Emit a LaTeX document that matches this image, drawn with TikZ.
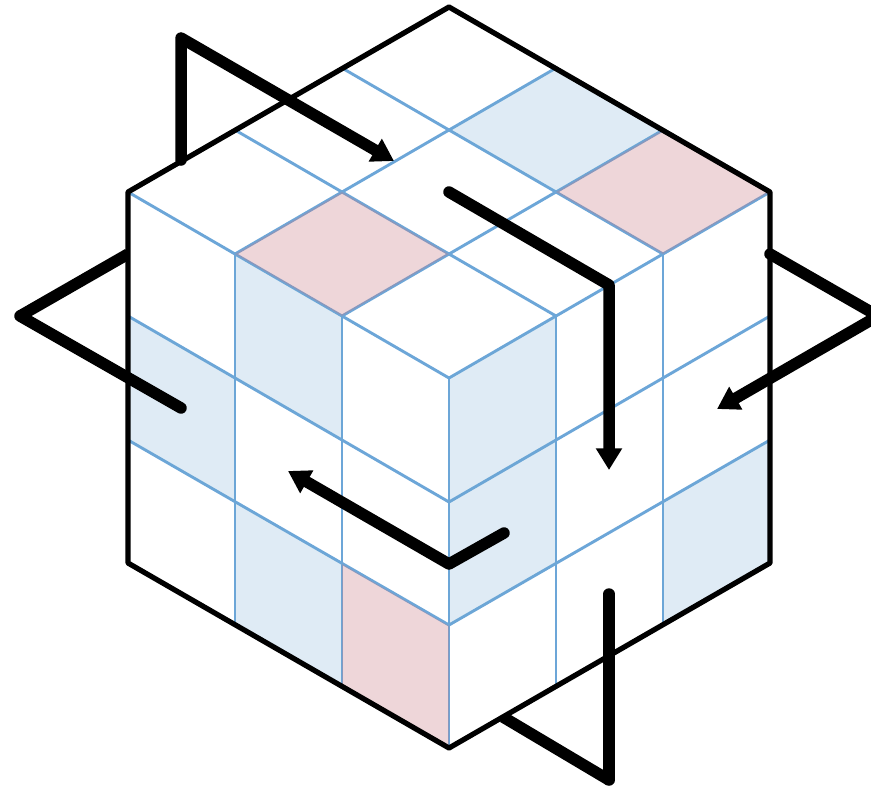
\documentclass[tikz,border=0pt]{standalone}
\usepackage{xcolor}
\usepackage{tikz}
\usetikzlibrary{arrows.meta}
\definecolor{gridblue}{RGB}{108,166,216}
\definecolor{cellblue}{RGB}{111,168,210}
\definecolor{cellpink}{RGB}{200,120,130}

\begin{document}
\begin{tikzpicture}[
    x=0.02cm, y=-0.02cm,
    gridline/.style={draw=gridblue, line width=0.058cm},
    outline/.style={draw=black, line width=0.105cm, line join=round, line cap=round},
    turn/.style={draw=black, line width=0.23cm, line join=round, line cap=round},
    back/.style={draw=black, line width=0.23cm},
    turnarrow/.style={turn, -{Triangle[length=0.434cm, width=0.5cm]}},
    bluecell/.style={fill=cellblue, fill opacity=0.22},
    pinkcell/.style={fill=cellpink, fill opacity=0.3}
]
\useasboundingbox (0,0) rectangle (871,798);

% cube corners
\coordinate (cubetop) at (449,7);
\coordinate (cubeleft) at (128,192);
\coordinate (cuberight) at (770,192);
\coordinate (leftlow) at (128,563);
\coordinate (rightlow) at (770,563);
\coordinate (cubebottom) at (449,748);

% parts of the turns that pass behind the cube
\coordinate (leftstart) at (128,254);
\coordinate (leftapex) at (20,316);
\coordinate (leftend) at (181,408);
\coordinate (lowstart) at (503,717);
\coordinate (lowapex) at (609,780);
\coordinate (lowend) at (609,594);
\draw[back] (leftstart) -- (leftapex);
\draw[back] (lowstart) -- (lowapex);

\fill[white] (cubetop) -- (cuberight) -- (rightlow) -- (cubebottom) -- (leftlow) -- (cubeleft) -- cycle;

% grid on the three faces
\foreach \xa/\ya/\xb/\yb in {235/130/556/316, 342/68/663/254, 128/192/449/378,
    128/316/449/502, 128/440/449/625, 235/254/556/68, 342/316/663/130,
    449/378/770/192, 449/502/770/316, 449/625/770/440,
    235/254/235/625, 342/316/342/687, 449/378/449/748, 556/316/556/687, 663/254/663/625}
    \draw[gridline] (\xa,\ya) -- (\xb,\yb);

% coloured cells
\foreach \x/\y/\kind in {449/130/bluecell, 556/192/pinkcell, 235/254/pinkcell}
    \fill[\kind] (\x,\y) -- ++(107,-62) -- ++(107,62) -- ++(-107,62) -- cycle;
\foreach \x/\y/\kind in {235/254/bluecell, 128/316/bluecell, 235/502/bluecell, 342/564/pinkcell}
    \fill[\kind] (\x,\y) -- ++(107,62) -- ++(0,124) -- ++(-107,-62) -- cycle;
\foreach \x/\y/\kind in {449/378/bluecell, 449/502/bluecell, 663/502/bluecell}
    \fill[\kind] (\x,\y) -- ++(107,-62) -- ++(0,124) -- ++(-107,62) -- cycle;

\draw[outline] (cubetop) -- (cuberight) -- (rightlow) -- (cubebottom) -- (leftlow) -- (cubeleft) -- cycle;

% turns in front
\coordinate (backstart) at (181,160);
\coordinate (backapex) at (181,38);
\coordinate (backtip) at (394,161);
\coordinate (upstart) at (449,192);
\coordinate (upapex) at (609,285);
\coordinate (uptip) at (609,470);
\coordinate (rightstart) at (770,254);
\coordinate (rightapex) at (878,316);
\coordinate (righttip) at (717,409);
\coordinate (midstart) at (504,533);
\coordinate (midapex) at (449,564);
\coordinate (midtip) at (288,471);

\draw[turnarrow] (backstart) -- (backapex) -- (backtip);
\draw[turnarrow] (upstart) -- (upapex) -- (uptip);
\draw[turnarrow] (rightstart) -- (rightapex) -- (righttip);
\draw[turnarrow] (midstart) -- (midapex) -- (midtip);
\draw[turn] (leftapex) -- (leftend);
\draw[turn] (lowend) -- (lowapex);
\end{tikzpicture}
\end{document}
